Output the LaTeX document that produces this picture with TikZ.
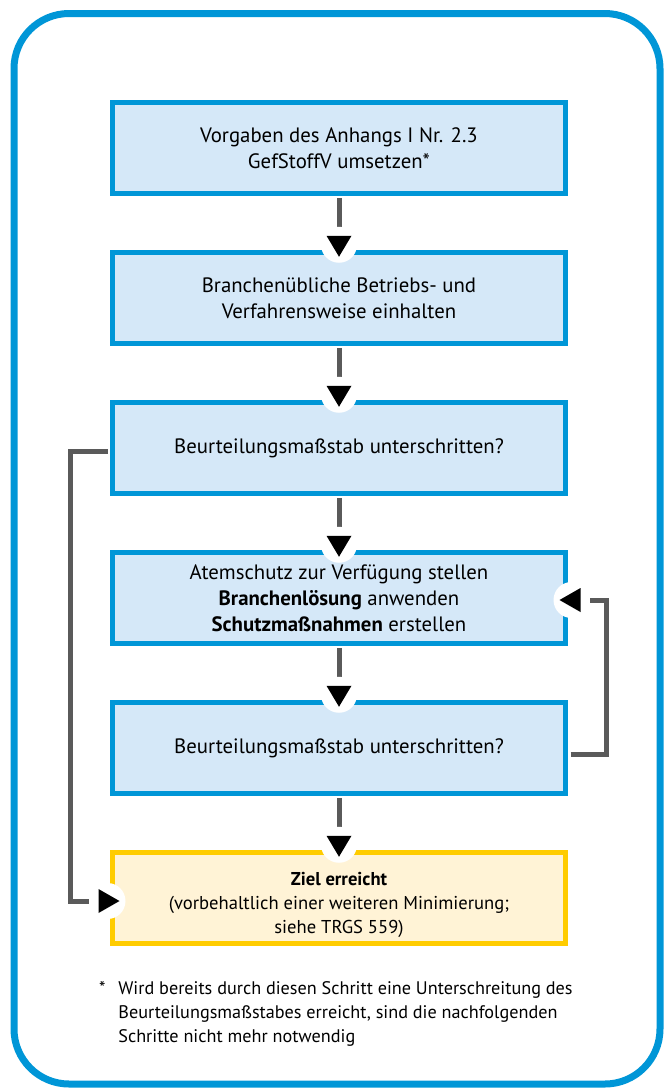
\documentclass[tikz,border=0pt]{standalone}
\usepackage{fontspec}
\setmainfont{PT Sans}
\definecolor{frameblue}{RGB}{0,150,215}
\definecolor{boxblue}{RGB}{213,232,248}
\definecolor{goalyellow}{RGB}{255,204,0}
\definecolor{goalfill}{RGB}{255,243,214}
\definecolor{linegray}{RGB}{90,90,90}
\begin{document}
\begin{tikzpicture}[x=0.5pt,y=-0.5pt,
    stepbox/.style={draw=frameblue, fill=boxblue, line width=2.5pt, minimum width=226.5pt,
        minimum height=45.25pt, inner sep=0pt, align=center, font=\fontsize{10.4}{13}\selectfont},
    goalbox/.style={stepbox, draw=goalyellow, fill=goalfill, font=\fontsize{9.3}{12}\selectfont},
    conn/.style={draw=linegray, line width=2.5pt},
    disc/.style={circle, fill=white, minimum size=18pt, inner sep=0pt}]
    \useasboundingbox (0,0) rectangle (666,1089);
    \draw[frameblue, line width=3.5pt, fill=white, rounded corners=27.5pt] (14,13.5) rectangle (660,1084);

    % boxes
    \node[stepbox] (vorgaben) at (339,148) {Vorgaben des Anhangs I Nr. 2.3\\GefStoffV umsetzen*};
    \node[stepbox] (branche) at (339,298) {Branchenübliche Betriebs- und\\Verfahrensweise einhalten};
    \node[stepbox] (pruefung1) at (339,448) {Beurteilungsmaßstab unterschritten?};
    \node[stepbox] (atemschutz) at (339,598) {Atemschutz zur Verfügung stellen\\\textbf{Branchenlösung} anwenden\\\textbf{Schutzmaßnahmen} erstellen};
    \node[stepbox] (pruefung2) at (339,748) {Beurteilungsmaßstab unterschritten?};
    \node[goalbox] (ziel) at (339,898) {\rule{0pt}{14pt}\textbf{Ziel erreicht}\\(vorbehaltlich einer weiteren Minimierung;\\siehe TRGS 559)};

    % connectors
    \draw[conn, shorten >=11.25pt] ([yshift=-1.25pt]vorgaben.south) -- (branche.north);
    \draw[conn, shorten >=11.25pt] ([yshift=-1.25pt]branche.south) -- (pruefung1.north);
    \draw[conn, shorten >=11.25pt] ([yshift=-1.25pt]pruefung1.south) -- (atemschutz.north);
    \draw[conn, shorten >=11.25pt] ([yshift=-1.25pt]atemschutz.south) -- (pruefung2.north);
    \draw[conn, shorten >=11.25pt] ([yshift=-1.25pt]pruefung2.south) -- (ziel.north);

    \node[disc] (dot2) at ([yshift=2.75pt]branche.north) {};
    \node[disc] (dot3) at ([yshift=2.75pt]pruefung1.north) {};
    \node[disc] (dot4) at ([yshift=2.75pt]atemschutz.north) {};
    \node[disc] (dot5) at ([yshift=2.75pt]pruefung2.north) {};
    \node[disc] (dot6) at ([yshift=2.75pt]ziel.north) {};
    \node[disc] (dotleft) at ([xshift=-1.25pt,yshift=-1.5pt]ziel.west) {};
    \node[disc] (dotright) at ([xshift=1.75pt,yshift=-1pt]atemschutz.east) {};

    \draw[conn] ([xshift=-1.25pt,yshift=-1.5pt]pruefung1.west) -- ++(-37.5,0) |- (dotleft.west);
    \draw[conn] ([xshift=1.25pt,yshift=-3.25pt]pruefung2.east) -- ++(36,0) |- (dotright.east);

    \fill (dot2.center) ++(-12.5,-9) -- ++(25,0) -- ++(-12.5,21) -- cycle;
    \fill (dot3.center) ++(-12.5,-9) -- ++(25,0) -- ++(-12.5,21) -- cycle;
    \fill (dot4.center) ++(-12.5,-9) -- ++(25,0) -- ++(-12.5,21) -- cycle;
    \fill (dot5.center) ++(-12.5,-9) -- ++(25,0) -- ++(-12.5,21) -- cycle;
    \fill (dot6.center) ++(-12.5,-9) -- ++(25,0) -- ++(-12.5,21) -- cycle;
    \fill (dotleft.center) ++(-9,-12) -- ++(0,24) -- ++(21,-12) -- cycle;
    \fill (dotright.center) ++(9,-12) -- ++(0,24) -- ++(-21,-12) -- cycle;

    % footnote
    \node[anchor=north west, inner sep=0pt, align=left, font=\fontsize{9.1}{12}\selectfont] (note) at (118,981)
        {Wird bereits durch diesen Schritt eine Unterschreitung des\\Beurteilungsmaßstabes erreicht, sind die nachfolgenden\\Schritte nicht mehr notwendig};
    \node[anchor=north east, inner sep=0pt, font=\fontsize{9.1}{12}\selectfont] (star) at ([xshift=-6pt]note.north west) {*};
\end{tikzpicture}
\end{document}
